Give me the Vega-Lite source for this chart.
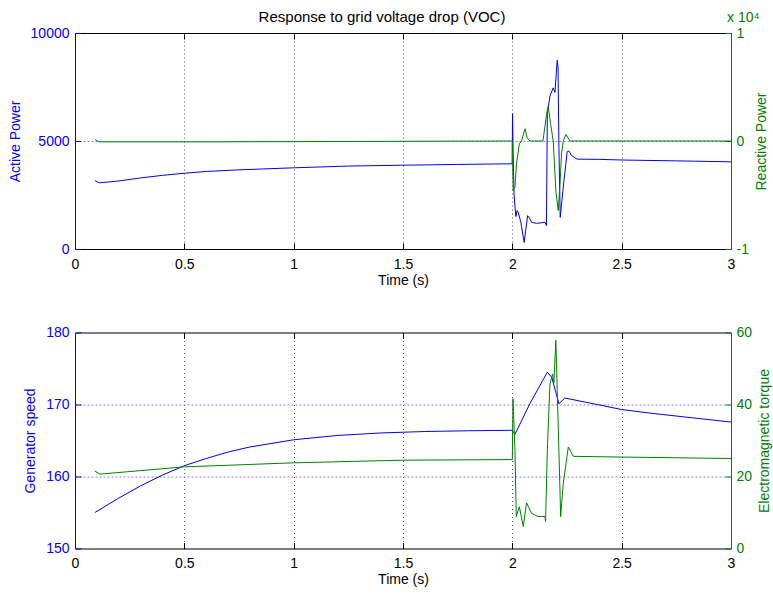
{
  "$schema": "https://vega.github.io/schema/vega-lite/v6.json",
  "padding": {"left": 8, "top": 10, "right": 5, "bottom": 5},
  "background": "white",
  "config": {
    "font": "Liberation Sans",
    "view": {"stroke": null},
    "axis": {
      "labelFont": "Liberation Sans",
      "titleFont": "Liberation Sans",
      "labelFontSize": 14,
      "titleFontSize": 14,
      "titleFontWeight": "normal",
      "tickSize": -6,
      "domainWidth": 1,
      "tickWidth": 1
    }
  },
  "datasets": {
    "P": [
      {"t": 0.091, "P": 3170}, {"t": 0.111, "P": 3062}, {"t": 0.2, "P": 3150}, {"t": 0.3, "P": 3290},
      {"t": 0.4, "P": 3410}, {"t": 0.5, "P": 3508}, {"t": 0.6, "P": 3590}, {"t": 0.75, "P": 3665},
      {"t": 1.0, "P": 3758}, {"t": 1.25, "P": 3840}, {"t": 1.5, "P": 3879}, {"t": 1.75, "P": 3915},
      {"t": 1.999, "P": 3944}, {"t": 2.001, "P": 6264}, {"t": 2.004, "P": 4200}, {"t": 2.008, "P": 2500},
      {"t": 2.016, "P": 1500}, {"t": 2.022, "P": 1777}, {"t": 2.027, "P": 1700}, {"t": 2.039, "P": 1234},
      {"t": 2.054, "P": 306}, {"t": 2.07, "P": 1545}, {"t": 2.08, "P": 1400}, {"t": 2.088, "P": 1234},
      {"t": 2.111, "P": 1188}, {"t": 2.149, "P": 1234}, {"t": 2.156, "P": 1081}, {"t": 2.16, "P": 6264},
      {"t": 2.172, "P": 7080}, {"t": 2.187, "P": 7460}, {"t": 2.195, "P": 7250}, {"t": 2.205, "P": 8737},
      {"t": 2.209, "P": 8427}, {"t": 2.213, "P": 4700}, {"t": 2.219, "P": 1466}, {"t": 2.236, "P": 3169},
      {"t": 2.251, "P": 4515}, {"t": 2.259, "P": 4540}, {"t": 2.271, "P": 4330}, {"t": 2.296, "P": 4160},
      {"t": 2.4, "P": 4150}, {"t": 2.5, "P": 4120}, {"t": 2.75, "P": 4080}, {"t": 3.0, "P": 4037}
    ],
    "Q": [
      {"t": 0.091, "Q": 140}, {"t": 0.111, "Q": -80}, {"t": 0.5, "Q": -80}, {"t": 1.0, "Q": -60},
      {"t": 1.6, "Q": -20}, {"t": 2.0, "Q": 0}, {"t": 2.004, "Q": -4594}, {"t": 2.012, "Q": -4287},
      {"t": 2.019, "Q": -2116}, {"t": 2.032, "Q": -260}, {"t": 2.042, "Q": 0}, {"t": 2.058, "Q": 1132},
      {"t": 2.068, "Q": 300}, {"t": 2.08, "Q": 0}, {"t": 2.14, "Q": 0}, {"t": 2.157, "Q": 2524},
      {"t": 2.164, "Q": 3202}, {"t": 2.175, "Q": 1596}, {"t": 2.187, "Q": 0}, {"t": 2.199, "Q": -4594},
      {"t": 2.21, "Q": -6450}, {"t": 2.218, "Q": -3972}, {"t": 2.225, "Q": -1188}, {"t": 2.233, "Q": 0},
      {"t": 2.245, "Q": 603}, {"t": 2.263, "Q": 0}, {"t": 3.0, "Q": 0}
    ],
    "speed": [
      {"t": 0.091, "w": 155.0}, {"t": 0.2, "w": 157.0}, {"t": 0.3, "w": 158.7}, {"t": 0.4, "w": 160.2},
      {"t": 0.5, "w": 161.5}, {"t": 0.6, "w": 162.5}, {"t": 0.7, "w": 163.4}, {"t": 0.8, "w": 164.1},
      {"t": 1.0, "w": 165.1}, {"t": 1.2, "w": 165.7}, {"t": 1.4, "w": 166.05}, {"t": 1.6, "w": 166.25},
      {"t": 1.8, "w": 166.35}, {"t": 2.0, "w": 166.42}, {"t": 2.012, "w": 165.86}, {"t": 2.08, "w": 170.1},
      {"t": 2.16, "w": 174.48}, {"t": 2.18, "w": 173.8}, {"t": 2.213, "w": 170.1}, {"t": 2.24, "w": 170.9},
      {"t": 2.355, "w": 170.2}, {"t": 2.5, "w": 169.3}, {"t": 2.63, "w": 168.8}, {"t": 3.0, "w": 167.56}
    ],
    "torque": [
      {"t": 0.091, "T": 21.5}, {"t": 0.114, "T": 20.66}, {"t": 0.5, "T": 22.68}, {"t": 1.0, "T": 23.8},
      {"t": 1.5, "T": 24.53}, {"t": 2.0, "T": 24.7}, {"t": 2.003, "T": 41.6}, {"t": 2.012, "T": 27.3},
      {"t": 2.018, "T": 8.85}, {"t": 2.032, "T": 11.6}, {"t": 2.05, "T": 6.1}, {"t": 2.065, "T": 12.7},
      {"t": 2.088, "T": 9.8}, {"t": 2.118, "T": 8.85}, {"t": 2.149, "T": 8.9}, {"t": 2.152, "T": 7.5},
      {"t": 2.16, "T": 27.3}, {"t": 2.172, "T": 45.7}, {"t": 2.184, "T": 48.5}, {"t": 2.19, "T": 46},
      {"t": 2.199, "T": 57.8}, {"t": 2.213, "T": 27}, {"t": 2.221, "T": 8.85}, {"t": 2.233, "T": 18.1},
      {"t": 2.256, "T": 28.2}, {"t": 2.279, "T": 25.6}, {"t": 2.5, "T": 25.4}, {"t": 3.0, "T": 25.0}
    ]
  },
  "vconcat": [
    {
      "title": {"text": "Response to grid voltage drop (VOC)", "fontSize": 15, "fontWeight": "normal", "font": "Liberation Sans", "color": "black", "anchor": "middle", "offset": -14, "dx": -21},
      "width": 656,
      "height": 216,
      "layer": [
        {
          "data": {"name": "P"},
          "mark": {"type": "line", "color": "#0000ff", "strokeWidth": 1},
          "encoding": {
            "x": {"field": "t", "type": "quantitative", "scale": {"domain": [0, 3]},
              "axis": {"orient": "bottom", "title": "Time (s)", "values": [0, 0.5, 1, 1.5, 2, 2.5, 3], "format": "~g", "labelFlush": false,
                "labelColor": "black", "titleColor": "black", "domainColor": "black", "tickColor": "black", "labelPadding": 14, "titlePadding": 2,
                "grid": true, "gridColor": "#555555", "gridDash": [1, 3], "gridWidth": 1,
                "gridOpacity": {"condition": {"test": "datum.value === 0 || datum.value === 3", "value": 0}, "value": 1}}},
            "y": {"field": "P", "type": "quantitative", "scale": {"domain": [0, 10000]},
              "axis": {"orient": "left", "title": "Active Power", "values": [0, 5000, 10000], "format": "d",
                "labelColor": "#0000ff", "titleColor": "#0000ff", "domainColor": "#0000ff", "tickColor": "#0000ff", "labelPadding": 12, "titlePadding": 8,
                "grid": true, "gridColor": "#8080ff", "gridDash": [2, 2], "gridWidth": 1,
                "gridOpacity": {"condition": {"test": "datum.value === 0 || datum.value === 10000", "value": 0}, "value": 1}}}
          }
        },
        {
          "data": {"name": "Q"},
          "mark": {"type": "line", "color": "#008000", "strokeWidth": 1},
          "encoding": {
            "x": {"field": "t", "type": "quantitative", "scale": {"domain": [0, 3]},
              "axis": {"orient": "top", "title": null, "labels": false, "values": [0, 0.5, 1, 1.5, 2, 2.5, 3], "domainColor": "black", "tickColor": "black", "grid": false}},
            "y": {"field": "Q", "type": "quantitative", "scale": {"domain": [-10000, 10000]},
              "axis": {"orient": "right", "title": "Reactive Power", "values": [-10000, 0, 10000], "labelExpr": "datum.value / 10000", "titleAngle": 270, "titleBaseline": "top",
                "labelColor": "#008000", "titleColor": "#008000", "domainColor": "#008000", "tickColor": "#008000", "labelPadding": 11, "titlePadding": 6, "grid": false}}
          }
        },
        {
          "data": {"values": [{"t": 3, "Q": 10000, "label": "x 10⁴"}]},
          "mark": {"type": "text", "color": "#008000", "align": "left", "baseline": "bottom", "dx": -4, "dy": -8, "fontSize": 14, "font": "Liberation Sans"},
          "encoding": {
            "x": {"field": "t", "type": "quantitative", "axis": null},
            "y": {"field": "Q", "type": "quantitative", "scale": {"domain": [-10000, 10000]}, "axis": null},
            "text": {"field": "label"}
          }
        }
      ],
      "resolve": {"scale": {"y": "independent"}}
    },
    {
      "width": 656,
      "height": 216,
      "layer": [
        {
          "data": {"name": "speed"},
          "mark": {"type": "line", "color": "#0000ff", "strokeWidth": 1},
          "encoding": {
            "x": {"field": "t", "type": "quantitative", "scale": {"domain": [0, 3]},
              "axis": {"orient": "bottom", "title": "Time (s)", "values": [0, 0.5, 1, 1.5, 2, 2.5, 3], "format": "~g", "labelFlush": false,
                "labelColor": "black", "titleColor": "black", "domainColor": "black", "tickColor": "black", "labelPadding": 14, "titlePadding": 2,
                "grid": true, "gridColor": "#555555", "gridDash": [1, 3], "gridWidth": 1,
                "gridOpacity": {"condition": {"test": "datum.value === 0 || datum.value === 3", "value": 0}, "value": 1}}},
            "y": {"field": "w", "type": "quantitative", "scale": {"domain": [150, 180]},
              "axis": {"orient": "left", "title": "Generator speed", "values": [150, 160, 170, 180], "format": "d",
                "labelColor": "#0000ff", "titleColor": "#0000ff", "domainColor": "#0000ff", "tickColor": "#0000ff", "labelPadding": 12, "titlePadding": 8,
                "grid": true, "gridColor": "#8080ff", "gridDash": [2, 2], "gridWidth": 1,
                "gridOpacity": {"condition": {"test": "datum.value === 150 || datum.value === 180", "value": 0}, "value": 1}}}
          }
        },
        {
          "data": {"name": "torque"},
          "mark": {"type": "line", "color": "#008000", "strokeWidth": 1},
          "encoding": {
            "x": {"field": "t", "type": "quantitative", "scale": {"domain": [0, 3]},
              "axis": {"orient": "top", "title": null, "labels": false, "values": [0, 0.5, 1, 1.5, 2, 2.5, 3], "domainColor": "black", "tickColor": "black", "grid": false}},
            "y": {"field": "T", "type": "quantitative", "scale": {"domain": [0, 60]},
              "axis": {"orient": "right", "title": "Electromagnetic torque", "values": [0, 20, 40, 60], "titleAngle": 270, "titleBaseline": "top",
                "labelColor": "#008000", "titleColor": "#008000", "domainColor": "#008000", "tickColor": "#008000", "labelPadding": 11, "titlePadding": 6, "grid": false}}
          }
        }
      ],
      "resolve": {"scale": {"y": "independent"}}
    }
  ],
  "spacing": 83.5,
  "bounds": "flush"
}
